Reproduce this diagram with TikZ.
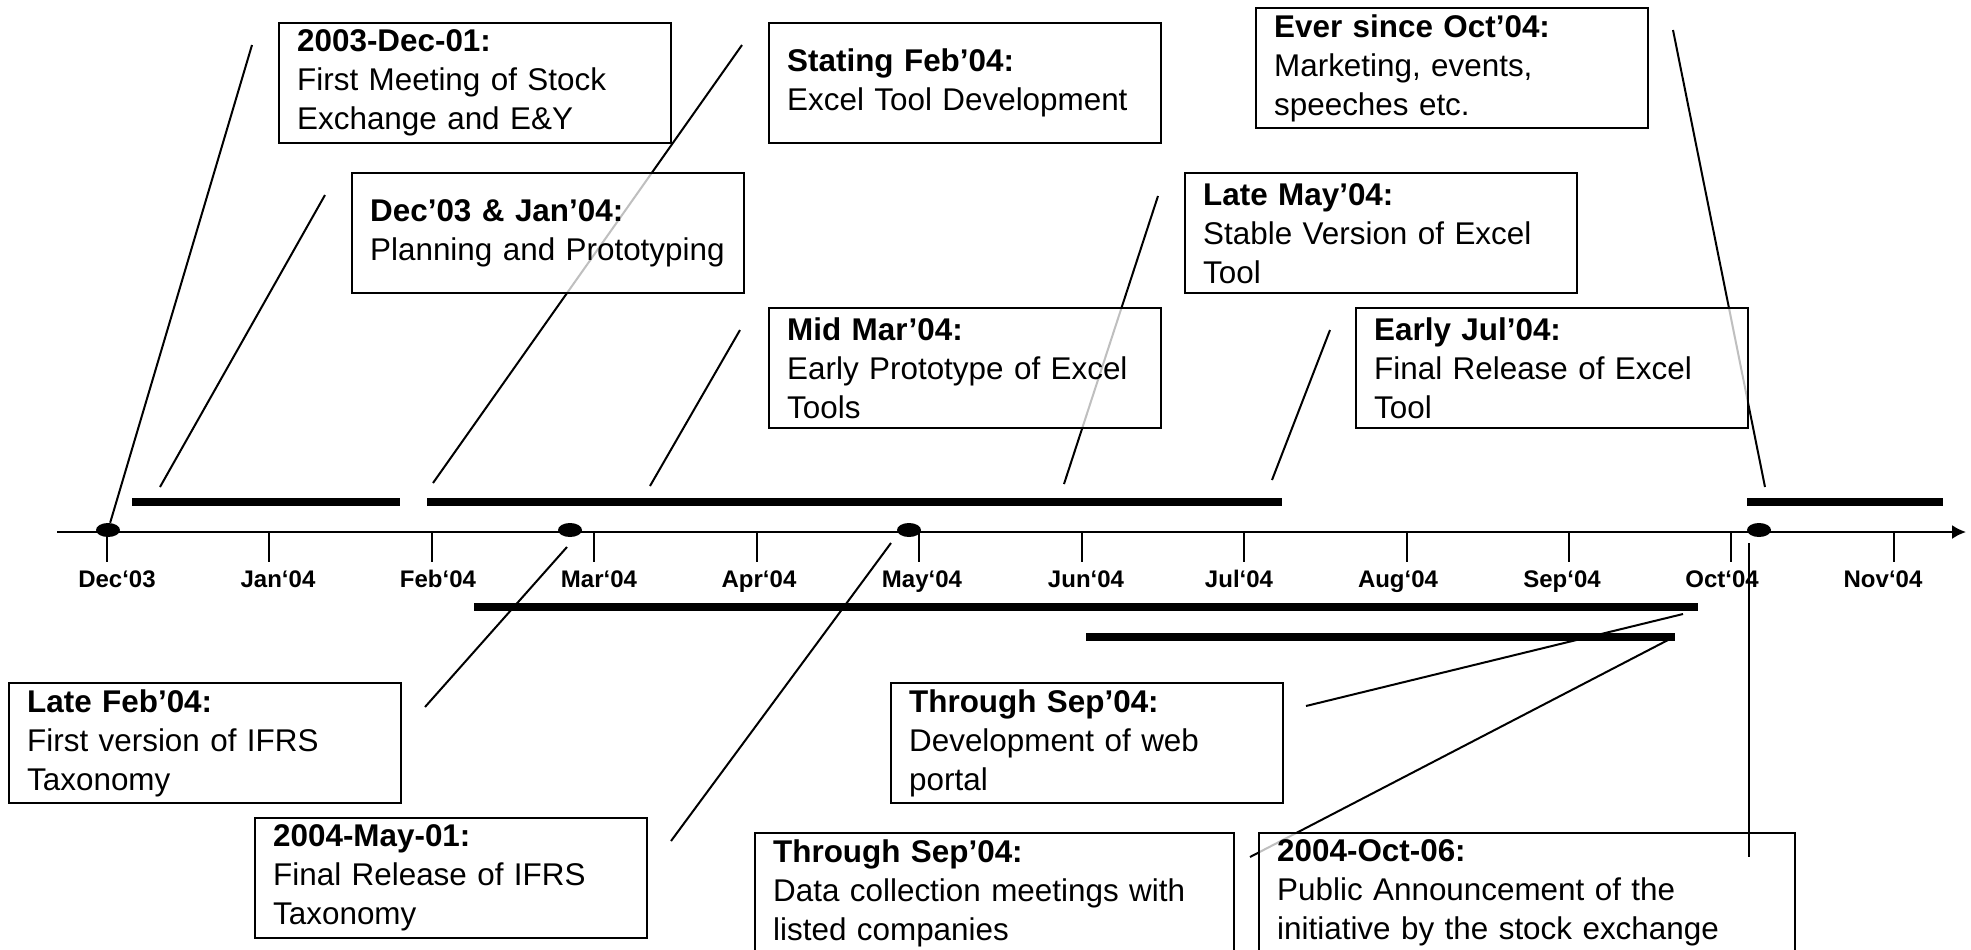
\documentclass[tikz,border=0pt]{standalone}
\usepackage{fontspec}
\setmainfont{Liberation Sans}
\usetikzlibrary{arrows.meta, shapes.geometric}

\tikzset{
	event/.style={draw, line width=1.2pt, fill=white, fill opacity=.75, text opacity=1,
		anchor=north west, inner xsep=9pt, inner ysep=2pt, minimum height=60pt,
		text width=178pt, align=left, font=\fontsize{15.7}{19.5}\selectfont},
	month/.style={anchor=base, font=\fontsize{12}{14}\selectfont\bfseries},
	milestone/.style={ellipse, fill=black, inner sep=0pt, minimum width=12pt, minimum height=7pt},
	bar/.style={line width=4pt},
	callout/.style={line width=1pt}
}

\begin{document}
\begin{tikzpicture}[x=0.5pt, y=-0.5pt]

\useasboundingbox (0, 0) rectangle (1971, 949); % page size

	% time axis
	\draw[line width=1pt, -{Latex[length=7pt, width=7pt]}] (57, 532) to (1966, 532);

	% month ticks
	\draw[line width=1pt] (107, 532) to (107, 562);
	\draw[line width=1pt] (269, 532) to (269, 562);
	\draw[line width=1pt] (432, 532) to (432, 562);
	\draw[line width=1pt] (594, 532) to (594, 562);
	\draw[line width=1pt] (757, 532) to (757, 562);
	\draw[line width=1pt] (919, 532) to (919, 562);
	\draw[line width=1pt] (1082, 532) to (1082, 562);
	\draw[line width=1pt] (1244, 532) to (1244, 562);
	\draw[line width=1pt] (1407, 532) to (1407, 562);
	\draw[line width=1pt] (1569, 532) to (1569, 562);
	\draw[line width=1pt] (1731, 532) to (1731, 562);
	\draw[line width=1pt] (1894, 532) to (1894, 562);

	% month names
	\node[month] (mdec) at (117, 587) {Dec‘03};
	\node[month] (mjan) at (278, 587) {Jan‘04};
	\node[month] (mfeb) at (438, 587) {Feb‘04};
	\node[month] (mmar) at (599, 587) {Mar‘04};
	\node[month] (mapr) at (759, 587) {Apr‘04};
	\node[month] (mmay) at (922, 587) {May‘04};
	\node[month] (mjun) at (1086, 587) {Jun‘04};
	\node[month] (mjul) at (1239, 587) {Jul‘04};
	\node[month] (maug) at (1398, 587) {Aug‘04};
	\node[month] (msep) at (1562, 587) {Sep‘04};
	\node[month] (moct) at (1722, 587) {Oct‘04};
	\node[month] (mnov) at (1883, 587) {Nov‘04};

	% phase bars
	\draw[bar] (132, 502) to (400, 502);
	\draw[bar] (427, 502) to (1282, 502);
	\draw[bar] (1747, 502) to (1943, 502);
	\draw[bar] (474, 607) to (1698, 607);
	\draw[bar] (1086, 637) to (1675, 637);

	% milestones
	\node[milestone] (dotdec) at (108, 530) {};
	\node[milestone] (dotfeb) at (570, 530) {};
	\node[milestone] (dotmay) at (909, 530) {};
	\node[milestone] (dotoct) at (1759, 530) {};

	% callout ends
	\coordinate (meettop) at (252, 45);
	\coordinate (plantop) at (325, 195);
	\coordinate (planbot) at (160, 487);
	\coordinate (devtop) at (742, 45);
	\coordinate (devbot) at (433, 483);
	\coordinate (protop) at (740, 330);
	\coordinate (probot) at (650, 486);
	\coordinate (stabtop) at (1158, 196);
	\coordinate (stabbot) at (1064, 484);
	\coordinate (reltop) at (1330, 330);
	\coordinate (relbot) at (1272, 480);
	\coordinate (mkttop) at (1673, 30);
	\coordinate (mktbot) at (1765, 487);
	\coordinate (ifrstop) at (567, 547);
	\coordinate (ifrsbot) at (425, 707);
	\coordinate (fintop) at (891, 543);
	\coordinate (finbot) at (671, 841);
	\coordinate (webtop) at (1683, 614);
	\coordinate (webbot) at (1306, 706);
	\coordinate (datatop) at (1668, 640);
	\coordinate (databot) at (1250, 857);
	\coordinate (pubtop) at (1749, 543);
	\coordinate (pubbot) at (1749, 857);

	% callouts
	\draw[callout] (meettop) to (dotdec);
	\draw[callout] (plantop) to (planbot);
	\draw[callout] (devtop) to (devbot);
	\draw[callout] (protop) to (probot);
	\draw[callout] (stabtop) to (stabbot);
	\draw[callout] (reltop) to (relbot);
	\draw[callout] (mkttop) to (mktbot);
	\draw[callout] (ifrstop) to (ifrsbot);
	\draw[callout] (fintop) to (finbot);
	\draw[callout] (webtop) to (webbot);
	\draw[callout] (datatop) to (databot);

	% event boxes above
	\node[event] (firstmeet) at (278, 22) {\textbf{2003-Dec-01:}\\First Meeting of Stock\\Exchange and E\&Y};
	\node[event] (planning) at (351, 172) {\textbf{Dec’03 \& Jan’04:}\\Planning and Prototyping};
	\node[event] (exceldev) at (768, 22) {\textbf{Stating Feb’04:}\\Excel Tool Development};
	\node[event] (marketing) at (1255, 7) {\textbf{Ever since Oct’04:}\\Marketing, events,\\speeches etc.};
	\node[event] (stablever) at (1184, 172) {\textbf{Late May’04:}\\Stable Version of Excel\\Tool};
	\node[event] (earlyproto) at (768, 307) {\textbf{Mid Mar’04:}\\Early Prototype of Excel\\Tools};
	\node[event] (finalexcel) at (1355, 307) {\textbf{Early Jul’04:}\\Final Release of Excel\\Tool};

	% event boxes below
	\node[event] (firstifrs) at (8, 682) {\textbf{Late Feb’04:}\\First version of IFRS\\Taxonomy};
	\node[event] (finalifrs) at (254, 817) {\textbf{2004-May-01:}\\Final Release of IFRS\\Taxonomy};
	\node[event] (webportal) at (890, 682) {\textbf{Through Sep’04:}\\Development of web\\portal};
	\node[event, text width=221.5pt] (datacoll) at (754, 832) {\textbf{Through Sep’04:}\\Data collection meetings with\\listed companies};
	\node[event, text width=250pt] (announce) at (1258, 832) {\textbf{2004-Oct-06:}\\Public Announcement of the\\initiative by the stock exchange};

	% announcement line on top
	\draw[callout] (pubtop) to (pubbot);

\end{tikzpicture}
\end{document}
